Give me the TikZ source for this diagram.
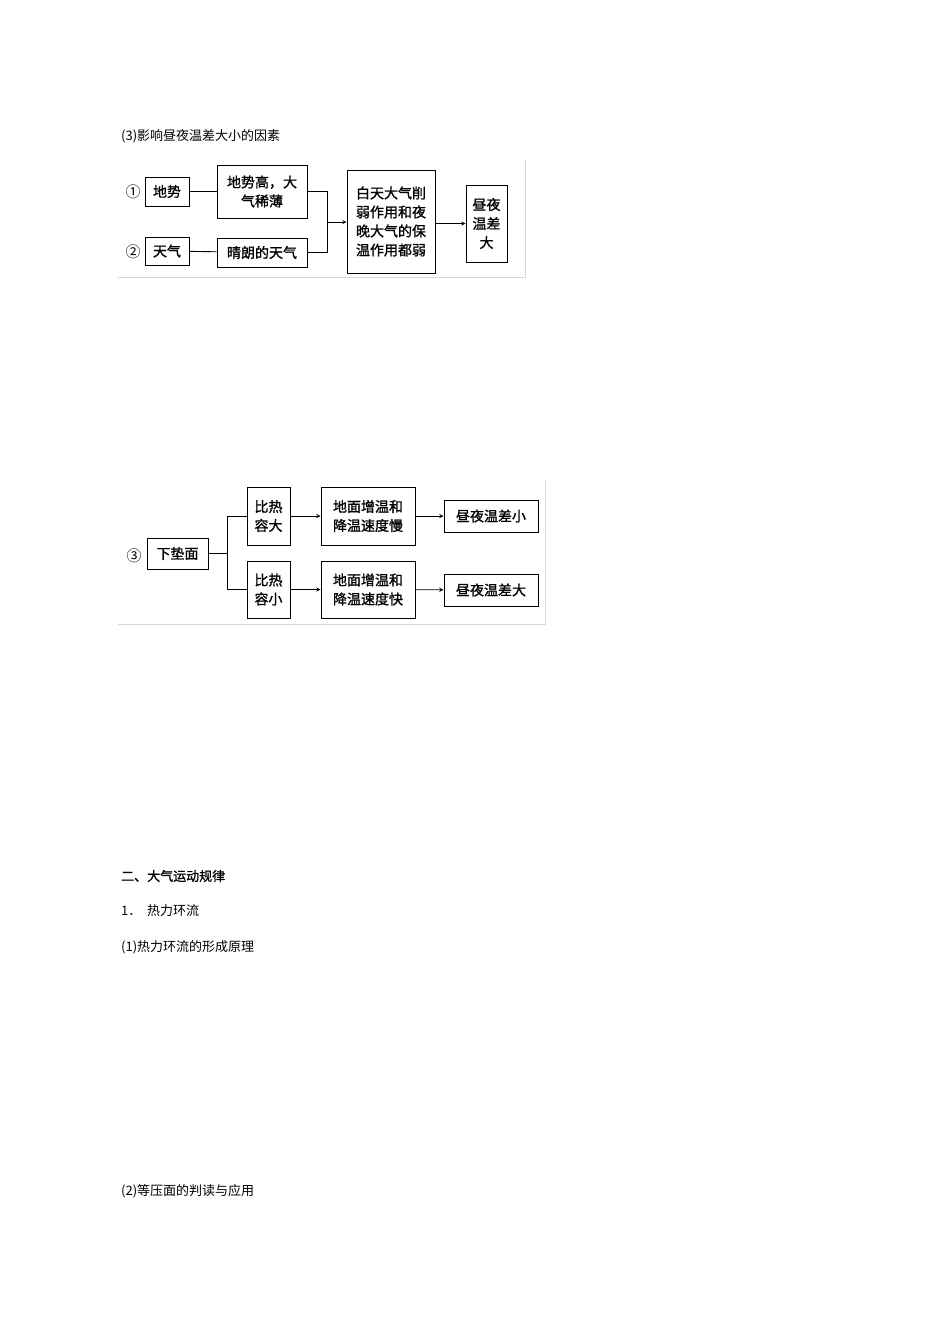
\documentclass[tikz,border=0pt]{standalone}
\usepackage{fontspec}
\newfontfamily\cjk{Noto Sans CJK SC}
\newfontfamily\cjkb[FakeBold=1.2]{Noto Sans CJK SC}
\begin{document}
\begin{tikzpicture}[x=1pt,y=-1pt,
  bx/.style={draw,line width=1pt,inner sep=0pt,font=\cjkb\fontsize{14}{19}\selectfont,align=center},
  tx/.style={anchor=west,inner sep=0pt,font=\cjk\fontsize{13}{16}\selectfont},
  ln/.style={line width=0.9pt},
  ar/.style={line width=0.9pt,-stealth},
  gr/.style={draw=black!15,line width=0.8pt}]
\useasboundingbox (0,0) rectangle (950,1344);
\node[tx] (t3) at (121,136) {(3)影响昼夜温差大小的因素};
% diagram 1
\draw[gr] (118,277) -- (525,277) -- (525,160);
\node[font=\cjk\fontsize{15}{15}\selectfont] (n1) at (133,192) {①};
\node[font=\cjk\fontsize{15}{15}\selectfont] (n2) at (133,252) {②};
\node[bx,minimum width=44pt,minimum height=29pt] (a1) at (167,191.5) {地势};
\node[bx,minimum width=90pt,minimum height=53pt] (a2) at (262,191.5) {地势高，大\\气稀薄};
\node[bx,minimum width=44pt,minimum height=28pt] (b1) at (167,251) {天气};
\node[bx,minimum width=90pt,minimum height=29pt] (b2) at (262,252.5) {晴朗的天气};
\node[bx,minimum width=88pt,minimum height=103pt] (c) at (391,221.5) {白天大气削\\弱作用和夜\\晚大气的保\\温作用都弱};
\node[bx,minimum width=41pt,minimum height=77pt] (d) at (486.5,223.5) {昼夜\\温差\\大};
\coordinate (j) at (327,222);
\draw[ln] (a1) -- (a2);
\draw[ln] (b1) -- (b2);
\draw[ln] (a2.east) -| (j);
\draw[ln] (b2.east) -| (j);
\draw[ar] (j) -- (j-|c.west);
\draw[ar] (c.east|-d) -- (d.west);
% diagram 2
\draw[gr] (118,624) -- (545,624) -- (545,480);
\node[font=\cjk\fontsize{15}{15}\selectfont] (n3) at (134,556) {③};
\node[bx,minimum width=61pt,minimum height=31pt] (p) at (177.5,553.5) {下垫面};
\node[bx,minimum width=43pt,minimum height=58pt] (q1) at (268.5,516) {比热\\容大};
\node[bx,minimum width=43pt,minimum height=57pt] (q2) at (268.5,589.5) {比热\\容小};
\node[bx,minimum width=94pt,minimum height=58pt] (r1) at (368,516) {地面增温和\\降温速度慢};
\node[bx,minimum width=94pt,minimum height=57pt] (r2) at (368,589.5) {地面增温和\\降温速度快};
\node[bx,minimum width=94pt,minimum height=32pt] (s1) at (491,516) {昼夜温差小};
\node[bx,minimum width=94pt,minimum height=32pt] (s2) at (491,590) {昼夜温差大};
\coordinate (k) at (227,553.5);
\draw[ln] (p.east) -- (k);
\draw[ln] (k) |- (q1.west);
\draw[ln] (k) |- (q2.west);
\draw[ar] (q1) -- (r1);
\draw[ar] (q2) -- (r2);
\draw[ar] (r1) -- (s1);
\draw[ar] (r2) -- (s2);
% text
\node[tx,font=\cjkb\fontsize{13}{16}\selectfont] (h2) at (121,876) {二、大气运动规律};
\node[tx] (h3) at (121,911) {1．\ \ 热力环流};
\node[tx] (h4) at (121,947) {(1)热力环流的形成原理};
\node[tx] (h5) at (121,1191) {(2)等压面的判读与应用};
\end{tikzpicture}
\end{document}
